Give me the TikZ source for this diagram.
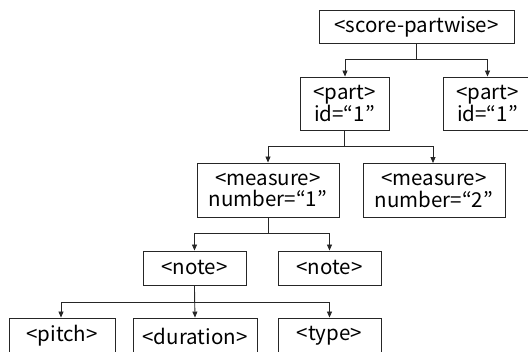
\documentclass[tikz,border=0pt]{standalone}
\usepackage{fontspec}
\setmainfont{Noto Sans CJK JP}
\usetikzlibrary{arrows.meta,calc}

\begin{document}
\begin{tikzpicture}[
    x=1pt, y=-1pt,
    tag/.style={rectangle, draw=black!85, line width=0.9pt, inner sep=0pt,
      align=center, font=\fontsize{20.5}{21.5}\selectfont},
    arr/.style={-{Triangle[length=6pt, width=5pt]}, line width=0.8pt, draw=black!85}
]
    \useasboundingbox (0,0) rectangle (528,352);
    \clip (0,0) rectangle (528,352);

    % tree levels
    \node[tag, minimum width=195pt, minimum height=33pt] (score) at (416.5,26.5) {<score-partwise>};
    \node[tag, minimum width=89pt, minimum height=53pt] (part1) at (344.5,103.5) {<part>\\id=“1”};
    \node[tag, minimum width=89pt, minimum height=53pt] (part2) at (487.5,103.5) {<part>\\id=“1”};
    \node[tag, minimum width=142pt, minimum height=54pt] (meas1) at (268,190) {<measure>\\number=“1”};
    \node[tag, minimum width=142pt, minimum height=54pt] (meas2) at (434,190.5) {<measure>\\number=“2”};
    \node[tag, minimum width=103pt, minimum height=34pt] (note1) at (194.5,268) {<note>};
    \node[tag, minimum width=103pt, minimum height=34pt] (note2) at (329.5,268) {<note>};
    \node[tag, minimum width=106pt, minimum height=36pt] (pitch) at (62,336) {<pitch>};
    \node[tag, minimum width=124pt, minimum height=36pt] (dur) at (195,336) {<duration>};
    \node[tag, minimum width=103pt, minimum height=36pt] (type) at (329.5,336) {<type>};

    % connectors
    \draw[arr] (score.south) -- ++(0,16) -| ($(part1.north)+(0.5,0)$);
    \draw[arr] (score.south) -- ++(0,16) -| (part2.north);
    \draw[arr] (part1.south) -- ++(0,16) -| (meas1.north);
    \draw[arr] (part1.south) -- ++(0,16) -| ($(meas2.north)+(-1,0)$);
    \draw[arr] (meas1.south) -- ++(0,16) -| (note1.north);
    \draw[arr] (meas1.south) -- ++(0,16) -| (note2.north);
    \draw[arr] (note1.south) -- ++(0,17) -| ($(pitch.north)+(-1,0)$);
    \draw[arr] (note1.south) -- (dur.north);
    \draw[arr] (note1.south) -- ++(0,17) -| (type.north);
\end{tikzpicture}
\end{document}
